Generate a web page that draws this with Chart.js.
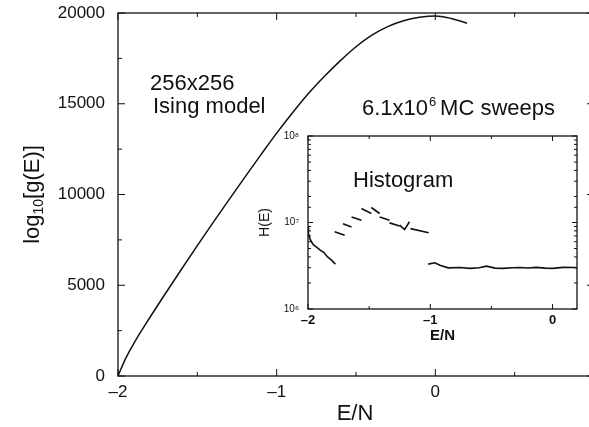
<!DOCTYPE html>
<html>
<head>
<meta charset="utf-8">
<script src="https://cdn.jsdelivr.net/npm/chart.js@4"></script>
<style>
  html, body { margin: 0; padding: 0; background: #fff; overflow: hidden; }
  #wrap { position: relative; width: 589px; height: 427px; overflow: hidden; }
  #main { position: absolute; left: 0; top: 0; }
  #inset { position: absolute; left: 250px; top: 125px; }
</style>
</head>
<body>
<div id="wrap">
  <canvas id="main" width="600" height="427"></canvas>
  <canvas id="inset" width="340" height="225"></canvas>
</div>
<script>
// main curve: log10 g(E) vs E/N
const energy = [-2.0, -1.95, -1.9, -1.8, -1.7, -1.6, -1.5, -1.4, -1.3, -1.2, -1.1, -1.0,
                -0.9, -0.8, -0.7, -0.6, -0.5, -0.4, -0.3, -0.2, -0.1, 0.0, 0.1, 0.2];
const logG = [0, 1000, 1800, 3210, 4560, 5880, 7180, 8460, 9720, 10960, 12180, 13380,
              14500, 15560, 16500, 17360, 18140, 18780, 19250, 19570, 19760, 19840, 19700, 19440];

// inset histogram, null in histH breaks the line
const histE = [
  -2.0, -1.996, -1.985, -1.972, -1.955, -1.93, -1.9, -1.87, -1.84, -1.81, -1.776, -1.78,
  -1.782, -1.70, -1.71,
  -1.714, -1.644, -1.64,
  -1.644, -1.563, -1.56,
  -1.563, -1.482, -1.48,
  -1.482, -1.414, -1.41,
  -1.414, -1.333, -1.33,
  -1.333, -1.251, -1.25,
  -1.251, -1.21, -1.17, -1.165,
  -1.162, -1.013, -1.015,
  -1.017, -0.962, -0.921, -0.853, -0.758, -0.676, -0.6, -0.54, -0.47, -0.404, -0.33,
  -0.268, -0.2, -0.132, -0.06, 0.002, 0.084, 0.18, 0.2
];
const histH = [
  8.8e6, 7.4e6, 6.5e6, 6.0e6, 5.5e6, 5.2e6, 4.8e6, 4.5e6, 4.0e6, 3.7e6, 3.3e6, null,
  7.8e6, 7.1e6, null,
  9.7e6, 8.9e6, null,
  1.16e7, 1.06e7, null,
  1.45e7, 1.27e7, null,
  1.49e7, 1.27e7, null,
  1.16e7, 1.06e7, null,
  9.9e6, 9.1e6, null,
  9.3e6, 8.3e6, 1.02e7, null,
  8.5e6, 7.6e6, null,
  3.3e6, 3.42e6, 3.21e6, 2.99e6, 3.02e6, 2.95e6, 3.0e6, 3.13e6, 2.97e6, 2.95e6, 3.0e6,
  3.02e6, 2.98e6, 3.03e6, 2.97e6, 2.95e6, 3.03e6, 3.02e6, 3.0e6
];

const mainYTicks = [0, 5000, 10000, 15000, 20000];
const mainXTicks = [-2, -1, 0];
const insetXTicks = [-2, -1, 0];
const insetYLabels = {6: '10\u2076', 7: '10\u2077', 8: '10\u2078'};

const FONT = '"Liberation Sans", Arial, Helvetica, sans-serif';
const INK = '#111';
const minus = v => (v < 0 ? '\u2013' + Math.abs(v) : String(v));
const noOverhang = s => { s.paddingTop = 0; s.paddingBottom = 0; s.paddingLeft = 0; s.paddingRight = 0; };

// frame with inward ticks, drawn from the chart scales
function frameTicks(major, minor, isMajorX, isMajorY) {
  return {
    id: 'frameTicks',
    afterDraw(chart) {
      const {ctx, chartArea: a, scales: {x, y}} = chart;
      ctx.save();
      ctx.strokeStyle = INK;
      ctx.lineWidth = 1.3;
      ctx.strokeRect(a.left, a.top, a.right - a.left, a.bottom - a.top);
      ctx.lineWidth = 1;
      ctx.beginPath();
      x.ticks.forEach(t => {
        if (Math.abs(t.value * 2 - Math.round(t.value * 2)) > 1e-9) return;
        const px = x.getPixelForValue(t.value);
        const len = isMajorX(t.value) ? major : minor;
        ctx.moveTo(px, a.bottom); ctx.lineTo(px, a.bottom - len);
        ctx.moveTo(px, a.top); ctx.lineTo(px, a.top + len);
      });
      y.ticks.forEach(t => {
        const py = y.getPixelForValue(t.value);
        const len = isMajorY(t.value) ? major : minor;
        ctx.moveTo(a.left, py); ctx.lineTo(a.left + len, py);
        ctx.moveTo(a.right, py); ctx.lineTo(a.right - len, py);
      });
      ctx.stroke();
      ctx.restore();
    }
  };
}

const mainText = {
  id: 'mainText',
  afterDraw(chart) {
    const {ctx, chartArea: a} = chart;
    ctx.save();
    ctx.fillStyle = INK;
    ctx.textBaseline = 'alphabetic';
    ctx.font = '22px ' + FONT;
    ctx.textAlign = 'left';
    ctx.fillText('256x256', 150, 90);
    ctx.fillText('Ising model', 153, 113);
    ctx.fillText('6.1x10', 362, 115);
    let w = ctx.measureText('6.1x10').width;
    ctx.font = '13px ' + FONT;
    ctx.fillText('6', 362 + w + 1, 106);
    ctx.font = '22px ' + FONT;
    ctx.fillText('MC sweeps', 362 + w + 12, 115);

    // x title
    ctx.textAlign = 'center';
    ctx.textBaseline = 'middle';
    ctx.fillText('E/N', (a.left + a.right) / 2 - 1, 414);

    // y title with subscript
    ctx.translate(31, (a.top + a.bottom) / 2);
    ctx.rotate(-Math.PI / 2);
    ctx.textAlign = 'left';
    ctx.textBaseline = 'alphabetic';
    const big = '22px ' + FONT, small = '14px ' + FONT;
    ctx.font = big; const w1 = ctx.measureText('log').width, w3 = ctx.measureText('[g(E)]').width;
    ctx.font = small; const w2 = ctx.measureText('10').width;
    let x0 = -(w1 + w2 + w3) / 2;
    ctx.font = big; ctx.fillText('log', x0, 8);
    ctx.font = small; ctx.fillText('10', x0 + w1, 12);
    ctx.font = big; ctx.fillText('[g(E)]', x0 + w1 + w2, 8);
    ctx.restore();
  }
};

new Chart(document.getElementById('main'), {
  type: 'line',
  data: {
    datasets: [{
      data: energy.map((e, i) => ({x: e, y: logG[i]})),
      borderColor: INK,
      borderWidth: 1.5,
      pointRadius: 0,
      cubicInterpolationMode: 'monotone'
    }]
  },
  options: {
    responsive: false,
    animation: false,
    plugins: {legend: {display: false}, tooltip: {enabled: false}},
    layout: {padding: {top: 13, right: 6, left: 0, bottom: 0}},
    scales: {
      x: {
        type: 'linear', min: -2, max: 1,
        afterFit: s => { noOverhang(s); s.height = 51; },
        grid: {display: false, drawTicks: false},
        border: {display: false},
        ticks: {
          stepSize: 0.5, autoSkip: false, maxRotation: 0, padding: 6, includeBounds: false,
          color: INK, font: {family: FONT, size: 17},
          callback: v => (mainXTicks.includes(v) ? minus(v) : '')
        }
      },
      y: {
        min: 0, max: 20000,
        afterFit: s => { noOverhang(s); s.width = 118; },
        grid: {display: false, drawTicks: false},
        border: {display: false},
        ticks: {
          stepSize: 2500, autoSkip: false, padding: 13,
          color: INK, font: {family: FONT, size: 17},
          callback: v => (mainYTicks.includes(v) ? String(v) : '')
        }
      }
    }
  },
  plugins: [frameTicks(7, 4, v => Number.isInteger(v), v => v % 5000 === 0), mainText]
});

const insetText = {
  id: 'insetText',
  afterDraw(chart) {
    const {ctx, chartArea: a} = chart;
    ctx.save();
    ctx.fillStyle = INK;
    ctx.font = '22px ' + FONT;
    ctx.textAlign = 'left';
    ctx.textBaseline = 'alphabetic';
    ctx.fillText('Histogram', 103, 62);
    ctx.font = 'bold 15px ' + FONT;
    ctx.textAlign = 'center';
    ctx.textBaseline = 'middle';
    ctx.fillText('E/N', (a.left + a.right) / 2, 211);
    ctx.translate(15, (a.top + a.bottom) / 2);
    ctx.rotate(-Math.PI / 2);
    ctx.font = '14px ' + FONT;
    ctx.fillText('H(E)', 0, 0);
    ctx.restore();
  }
};

const isDecade = v => Math.abs(Math.log10(v) - Math.round(Math.log10(v))) < 1e-9;

new Chart(document.getElementById('inset'), {
  type: 'line',
  data: {
    datasets: [{
      data: histE.map((e, i) => ({x: e, y: histH[i]})),
      borderColor: INK,
      borderWidth: 1.6,
      pointRadius: 0,
      tension: 0,
      spanGaps: false
    }]
  },
  options: {
    responsive: false,
    animation: false,
    plugins: {legend: {display: false}, tooltip: {enabled: false}},
    layout: {padding: {top: 11, right: 13, left: 0, bottom: 0}},
    scales: {
      x: {
        type: 'linear', min: -2, max: 0.2,
        afterFit: s => { noOverhang(s); s.height = 41; },
        grid: {display: false, drawTicks: false},
        border: {display: false},
        ticks: {
          stepSize: 0.5, autoSkip: false, maxRotation: 0, padding: 4, includeBounds: false,
          color: INK, font: {family: FONT, size: 13, weight: 'bold'},
          callback: v => (insetXTicks.includes(v) ? minus(v) : '')
        }
      },
      y: {
        type: 'logarithmic', min: 1e6, max: 1e8,
        afterFit: s => { noOverhang(s); s.width = 58; },
        grid: {display: false, drawTicks: false},
        border: {display: false},
        ticks: {
          autoSkip: false, padding: 9,
          color: INK, font: {family: FONT, size: 10},
          callback: v => {
            const p = Math.round(Math.log10(v));
            return isDecade(v) && insetYLabels[p] ? insetYLabels[p] : '';
          }
        }
      }
    }
  },
  plugins: [frameTicks(5, 3, v => Number.isInteger(v), isDecade), insetText]
});
</script>
</body>
</html>
